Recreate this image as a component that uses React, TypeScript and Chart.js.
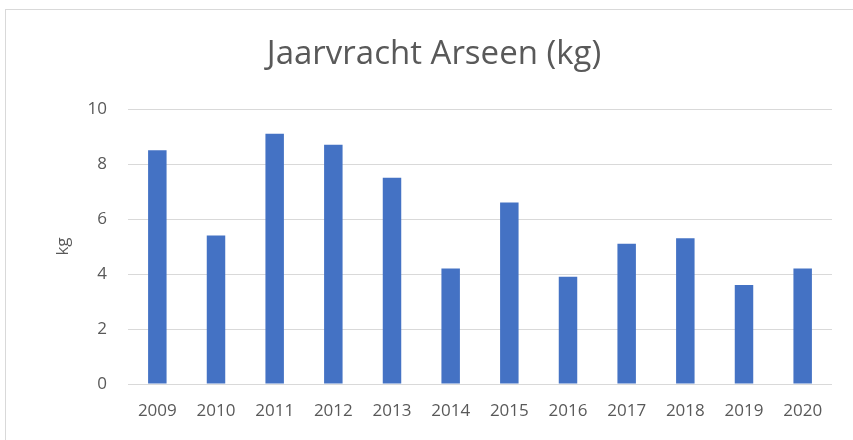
import React, { useEffect, useRef } from "react";
import { Chart, registerables } from "chart.js";

Chart.register(...registerables);

const years = ["2009", "2010", "2011", "2012", "2013", "2014", "2015", "2016", "2017", "2018", "2019", "2020"];
const arseenKg = [8.5, 5.4, 9.1, 8.7, 7.5, 4.2, 6.6, 3.9, 5.1, 5.3, 3.6, 4.2];
const yTicks = [0, 2, 4, 6, 8, 10];

const TITLE_FONT = "'Open Sans', 'Liberation Sans', sans-serif";
const TICK_FONT = "'Open Sans', 'Liberation Sans', sans-serif";
const TEXT = "#595959";

export default function App() {
  const ref = useRef<HTMLCanvasElement | null>(null);
  useEffect(() => {
    if (!ref.current) return;
    const chart = new Chart(ref.current, {
      type: "bar",
      data: {
        labels: years,
        datasets: [
          {
            label: "Arseen",
            data: arseenKg,
            backgroundColor: "#4472C4",
            borderWidth: 0,
            barPercentage: 0.315,
            categoryPercentage: 1,
          },
        ],
      },
      options: {
        responsive: false,
        animation: false,
        layout: { padding: { left: 36, right: 21, top: 0, bottom: 0 } },
        plugins: {
          legend: { display: false },
          tooltip: { enabled: false },
          title: {
            display: true,
            text: "Jaarvracht Arseen (kg)",
            color: TEXT,
            font: { family: TITLE_FONT, size: 33, weight: "normal", lineHeight: 1.2 },
            padding: { top: 35, bottom: 34.4 },
          },
        },
        scales: {
          x: {
            grid: { display: false, drawTicks: false },
            border: { display: false },
            ticks: { color: TEXT, font: { family: TICK_FONT, size: 17 }, padding: 17, maxRotation: 0, autoSkip: false },
            afterFit: (s: any) => {
              s.height = 56;
            },
          },
          y: {
            min: 0,
            max: 10,
            afterBuildTicks: (s: any) => {
              s.ticks = yTicks.map((v) => ({ value: v }));
            },
            grid: { color: "#D9D9D9", lineWidth: 1, drawTicks: false },
            border: { display: false },
            ticks: { color: TEXT, font: { family: TICK_FONT, size: 17 }, padding: 21 },
            title: {
              display: true,
              text: "kg",
              color: TEXT,
              font: { family: TICK_FONT, size: 17 },
              padding: { top: 17, bottom: 0 },
            },
            afterFit: (s: any) => {
              s.width = 92;
            },
          },
        },
      },
    });
    return () => chart.destroy();
  }, []);
  return (
    <div style={{ position: "fixed", left: 0, top: 0, width: 853, height: 440, background: "#fff", overflow: "hidden" }}>
      <canvas ref={ref} width={853} height={440} style={{ display: "block" }} />
      <div
        style={{
          position: "absolute",
          left: 5,
          top: 9,
          width: 900,
          height: 500,
          border: "1px solid #D9D9D9",
          pointerEvents: "none",
        }}
      />
    </div>
  );
}
